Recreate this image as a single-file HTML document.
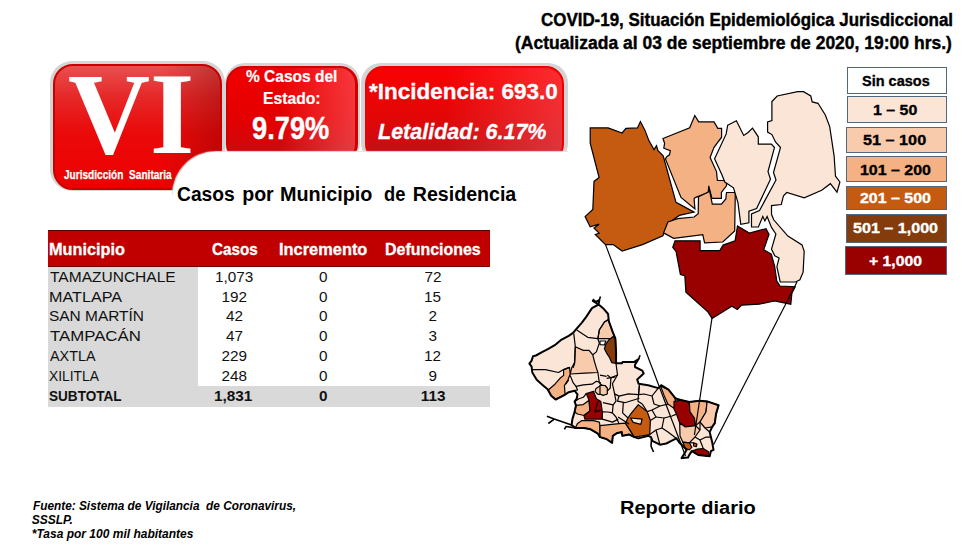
<!DOCTYPE html>
<html><head><meta charset="utf-8">
<style>
html,body{margin:0;padding:0;background:#fff;}
body{width:968px;height:549px;position:relative;overflow:hidden;font-family:"Liberation Sans",sans-serif;}
.t{position:absolute;white-space:nowrap;line-height:1;}
.box{position:absolute;box-sizing:border-box;}
.leg{position:absolute;box-sizing:border-box;border:1px solid #52687e;}
</style></head><body>

<!-- Red boxes -->
<div class="box" style="left:50px;top:61px;width:175px;height:130px;border-radius:22px;background:#d4d4d4;"></div>
<div class="box" style="left:53px;top:64px;width:169px;height:126px;border-radius:20px;background:linear-gradient(to left,rgba(120,0,0,0.35) 0%,rgba(120,0,0,0) 35%),linear-gradient(to bottom,#e85050 0%,#e62828 25%,#ea0a0a 55%,#ee0000 100%);border:2px solid #c80000;"></div>
<div class="box" style="left:225px;top:63px;width:135px;height:100px;border-radius:20px;background:#d4d4d4;"></div>
<div class="box" style="left:226px;top:66px;width:132px;height:96px;border-radius:18px;background:linear-gradient(to right,rgba(255,110,120,0) 40%,rgba(255,110,120,0.5) 100%),linear-gradient(to bottom,#f00000 0%,#e40000 55%,#c80a10 100%);border:2px solid #d00000;border-right-width:3px;"></div>
<div class="box" style="left:361px;top:63px;width:207px;height:100px;border-radius:20px;background:#d4d4d4;"></div>
<div class="box" style="left:365px;top:66px;width:199px;height:96px;border-radius:18px;background:linear-gradient(to right,rgba(255,110,120,0) 40%,rgba(255,110,120,0.4) 100%),linear-gradient(to bottom,#fa0000 0%,#e40606 50%,#c01018 100%);border:2px solid #ee0000;"></div>
<div class="box" style="left:173px;top:152px;width:396px;height:44px;border-radius:44px 0 0 0;background:#fff;box-shadow:-1px -1px 1px 0 #e4e4e4;"></div>
<div class="box" style="left:174px;top:152px;width:396px;height:60px;background:#fff;border-radius:44px 0 0 0;"></div>

<!-- Table backgrounds -->
<div class="box" style="left:48px;top:230px;width:442px;height:37px;background:#c00000;border-top:1px solid #5a0000;border-bottom:1px solid #7a0000;"></div>
<div class="box" style="left:48px;top:267px;width:150px;height:120px;background:#d9d9d9;"></div>
<div class="box" style="left:48px;top:386px;width:442px;height:21px;background:#d9d9d9;"></div>

<svg style="position:absolute;left:0;top:0" width="968" height="549" viewBox="0 0 968 549">
<g stroke="#000" stroke-width="1.2" stroke-linejoin="miter">
<polygon fill="#c55a11" points="590.2,127.9 608.1,127.9 622.1,133 625.9,128.4 637.4,127.9 640.4,121.5 645,130.4 648.9,140.6 654,149.5 656.5,145.7 658,150.7 663,155.6 663.8,158 676,202.3 694.1,212.1 679.3,215.4 667.9,223.6 662.9,235.7 642.5,244.6 622.1,251 613.2,244.6 605.5,244.6 595.3,234.4 599.1,233.2 594,228 599.1,224.2 590.2,226.8 585.1,216.6 592.8,209.5 594,181.4 599.1,177.6 590.2,143.2"/>
<polygon fill="#f4b183" points="663,138.5 689.7,127.7 694.8,115.5 698.7,121.9 714,121.9 717.8,128.3 721.6,128.3 721.6,137.2 714,147.4 710.1,157.6 716.5,171.6 717.4,180.5 726.5,180.5 726.5,185.9 721.4,192.5 721.4,198.3 712,198.3 708.7,185.9 708.3,192.5 695.2,197.6 694.1,199 694.9,208.9 681,197.4 665.4,158.9 667,156.4 669.5,154.8 670.3,150.7 663.8,148.2 664.6,143.3"/>
<polygon fill="#f4b183" points="667.9,222 677.7,218.7 694.1,217 698.2,213.8 698.5,196.8 708.3,192.1 709,188 712.3,204.1 721.4,204.1 725.8,199 726.5,192.5 735.3,192.5 734.7,231 722.8,242 704.6,242.9 702.8,234.7 673.7,238.3 663.6,232.9"/>
<polygon fill="#fbe5d6" points="727.7,125.2 736.4,120.8 743.7,135.4 748.1,132.5 752.5,128.1 758.3,136.8 758.3,144.1 771.4,144.1 774.5,147.5 768,171.6 770.5,179.3 756.6,208.6 748.9,211.2 748.9,222.8 740.8,224.3 737.9,202.4 733.5,187.8 724.8,182 721.9,174.7 714.6,158.7 726.2,133.9"/>
<polygon fill="#fbe5d6" points="771.9,101.5 777.2,96 797.6,91.7 803.5,91.7 810.8,96 812.2,101.9 818,103.3 825.3,115 829.7,126.6 834.1,155.8 835.5,176.2 839.9,182 837,192.2 830.4,183.7 821.7,190.3 804.2,197.9 786.8,192.5 783.5,195.7 781.3,204.5 771.5,205.6 771.5,214.3 773.7,219.8 787.9,236.1 802,244.9 804.2,251.4 803.1,272.2 799.9,279.8 795.5,282 780.2,282 776.9,266.7 779.1,258 774.8,255.8 771.5,249.2 775.9,234 771.5,227.4 767.1,216.5 764.9,220.9 762.8,216.5 758.4,227 751.5,227 751.5,214 759.5,210.5 776,180 773.5,172.5 780.5,147.5 775.5,142 771.9,134.6 767.6,132.1 767.6,121.9 771.9,120.6"/>
<polygon fill="#990000" points="672.8,247.3 675,240.8 700.1,240.8 700.1,250.6 719.8,250.6 723.1,245.1 735.1,240.8 737.5,226 749.3,233.1 766,228.7 769,234.4 763.7,249.7 771.3,254.1 774.6,266.1 776.8,281.2 780,286 795.2,286.7 791.9,293.2 790.8,304.2 774.4,300.9 759.1,304.2 741.6,305.2 737.3,309.6 731.8,306.3 712.1,318.4 707.8,311.8 685.9,292.1 684.8,275.7 680.4,274.6 676.1,251.7"/>
</g>
<g stroke="#000" stroke-width="1.6" stroke-linejoin="round" fill="none">
<polygon fill="#fbe5d6" stroke="none" points="592.8,300.8 596.4,301.6 599.3,300.1 598.6,304.5 603.7,308.8 608.1,314 608.8,321.2 612.5,331.4 615.4,338.7 616.1,353.3 616,363.3 621.9,363.3 622.6,361.9 634.3,361.9 638.6,359 635,364.8 635,367 642.3,370.6 643.7,373.5 637.2,379.4 638.6,383.7 648.1,385.2 658.3,388.1 661.2,385.2 668.5,389.6 674.3,396.9 676.5,398.8 681.6,400.1 689.3,402 699.5,400.7 707.1,401.4 718.6,405.2 716,414.1 714.8,423.1 712.2,426.9 709.7,432 710.9,437.1 712.2,442.2 713.5,449.8 710.9,451.1 709.7,456.2 698.2,454.9 691.8,451.1 689.3,454.9 688,457.5 681.6,458.1 686.7,449.8 682.9,446 679.1,442.2 676.5,438.4 671.4,440.9 666.3,443.5 659.9,444.7 652.3,440.9 651,437.1 648.5,435.8 638.3,438.4 634.4,437.1 629.3,434.5 622.3,435.8 621.7,432 616.6,433.3 612.8,435.8 612.1,442.8 606.4,439 600,437.1 597.9,433.7 590.6,429.3 584,427.9 575.3,427.9 571.6,425 572.4,419.1 574.6,411.9 576,405.3 574.6,401.6 576.7,398.7 577.5,394.4 574.6,390.7 568.7,392.2 564.4,395.1 555.6,399.5 551.2,395.8 547.6,389.3 542.5,384.9 536.7,379.8 532.3,372.5 531.6,366.7 529.4,363.7 531.6,360.6 533,356.2 535.9,355.5 542.5,351.9 548.3,348.9 555.6,344.6 560.7,340.2 568.7,335.8 573.1,332.9 576,329.3 581.9,322.7 586.2,316.9 592,308.1 598.6,304.5"/>
<polygon fill="#f8cbad" stroke-width="1.2" points="575.3,346.8 583.3,350.4 589.1,350.4 592.8,354.8 594.2,360.6 596.4,368.1 597.9,372.5 584.8,373.2 570.2,374 571.6,368.1 574.6,362.3"/>
<polygon fill="#f8cbad" stroke-width="1.2" points="599.3,330 604.4,322 608.1,319.8 608.8,321.2 612.5,331.4 615.4,338.7 605.9,338.7 597.9,338.7"/>
<polygon fill="#ffffff" stroke-width="1.2" points="600,341 605.9,341 604.4,345 600,344.6"/>
<polygon fill="#843c0c" stroke-width="1.2" points="605.8,344.4 608.7,340 613.2,336.5 615.4,338.7 616.1,353.3 616,363.3 611.7,362.6 609.5,357.5 606.6,353.1 604.4,348.7"/>
<polygon fill="#f4b183" stroke-width="1.2" points="563.6,369.6 569.5,367.4 570.2,374 568,379.8 564.4,385.6 565.1,394.4 555.6,399.5 551.2,395.8 548.3,390 554.9,384.2 560,378.3 563.6,375.4"/>
<polygon fill="#f8cbad" stroke-width="1.2" points="596,388.5 600.8,385.6 605.9,389.3 605.9,394.4 597.9,394.4 595,391.4"/>
<polygon fill="#f4b183" stroke-width="1.2" points="576,405.3 583.3,404.6 589.1,400.2 589.9,411.1 584,415.5 577.5,414 574.6,411.9"/>
<polygon fill="#990000" stroke-width="1.2" points="586.2,393.6 593.5,391.4 596.4,398.7 600.8,401.6 602.3,411.9 602.3,419.1 584.8,419.1 584,415.5 589.9,411.1 589.1,400.2"/>
<polygon fill="#f4b183" stroke-width="1.2" points="581.9,420.6 593.5,420.6 599.3,422.1 600,425.6 600,437.1 597.9,433.7 590.6,429.3 584,427.9 575.3,427.9 577.5,423.5"/>
<polygon fill="#f4b183" stroke-width="1.2" points="600,425.6 619.1,423.7 625.5,423.1 634.4,437.1 629.3,434.5 622.3,435.8 621.7,432 616.6,433.3 612.8,435.8 612.1,442.8 606.4,439 600,437.1"/>
<polygon fill="#f8cbad" stroke-width="1.2" points="600,385.2 605,385.5 607.3,388 607.3,394 603,395.4 600,394"/>
<polygon fill="#c55a11" stroke-width="1.2" points="630.6,414.1 638.3,404.6 647.2,411.6 650.4,420.5 649.7,434.5 634.4,437.1 625.5,423.1 628,418"/>
<polygon fill="#fbe5d6" stroke-width="1.2" points="630.6,418 642.1,419.2 640.8,424.3 633.2,422.4"/>
<polygon fill="#f4b183" stroke-width="1.2" points="660.5,385.9 668.5,389.6 674.3,396.9 675.8,401.2 674.3,408.5 667.8,404.1 664.1,395.4"/>
<polygon fill="#990000" stroke-width="1.2" points="674,401.4 681.6,400.1 689.3,402 689.9,411.6 694.4,418 695.6,425.6 685.4,426.9 679.7,423.1 676.5,414.1 674,409"/>
<polygon fill="#f4b183" stroke-width="1.2" points="689.3,402 699.5,400.7 707.1,401.4 706,412 700,422 695.6,425.6 694.4,418 689.9,411.6"/>
<polygon fill="#f8cbad" stroke-width="1.2" points="707.1,401.4 718.6,405.2 716,414.1 714.8,423.1 712.2,426.9 705,428 700,422 706,412"/>
<polygon fill="#f8cbad" stroke-width="1.2" points="679.7,423.1 685.4,426.9 695.6,425.6 700,430 695,437 689.3,442.8 682.9,442.2 680,436"/>
<polygon fill="#c55a11" stroke-width="1.2" points="682.9,442.2 689.3,442.8 691.8,447.3 689.3,449.8 685.4,448.6"/>
<polygon fill="#c55a11" stroke-width="1.2" points="693.7,442.8 696.9,444.1 696.3,446.6 693.5,446"/>
<polygon fill="#990000" stroke-width="1.2" points="691.8,451.1 696.9,449.2 703.3,448.6 708.4,451.7 709.7,456.2 698.2,454.9"/>
<polyline stroke-width="1.2" points="576.7,330 587.7,337.3 597.9,338.7 599.3,330 604.4,322 608.1,319.8"/>
<polyline stroke-width="1.2" points="573.8,333.6 575.3,346.8 574.6,363.5 573.1,367.9"/>
<polyline stroke-width="1.2" points="532.3,369.6 545.4,369.6 558.5,372.5 563.6,369.6 569.5,367.4"/>
<polyline stroke-width="1.2" points="597.9,338.7 599.3,343.1 596.4,351.9 592.8,354.8"/>
<polyline stroke-width="1.2" points="570.2,375.4 573.1,382.7 576,386.3 583.3,384.9 592,384.2 596.4,381.2 600.8,382.7"/>
<polyline stroke-width="1.2" points="568.7,379.8 565.8,384.2"/>
<polyline stroke-width="1.2" points="576,386.3 577.5,390 574.6,390.7"/>
<polyline stroke-width="1.2" points="597.9,372.5 599.3,382.7 602.3,385.6"/>
<polyline stroke-width="1.2" points="574.6,401.6 579,398.7 583.3,397.3 586.2,393.6"/>
<polyline stroke-width="1.2" points="597.9,401.6 595,411.9 600.8,410.4"/>
<polyline stroke-width="1.2" points="602.3,419.1 612.5,422.1 618.3,419.1"/>
<polyline stroke-width="1.2" points="616,363.3 617.5,375 610.9,377.9 607.3,375"/>
<polyline stroke-width="1.2" points="610.9,377.9 610.2,388.1 607.3,391"/>
<polyline stroke-width="1.2" points="617.5,375 612.4,383.7 614.6,393.9 619,396.1 628.4,393.9 638.6,394.7 639.4,385.2"/>
<polyline stroke-width="1.2" points="639.4,385.2 637.9,401.2 642.3,404.1"/>
<polyline stroke-width="1.2" points="614.6,393.9 616,401.2 613.1,404.9 602.9,402.7"/>
<polyline stroke-width="1.2" points="619,396.1 617.5,401.2 624.8,402.7 639.4,398.3"/>
<polyline stroke-width="1.2" points="613.1,404.9 612.4,412.9 616,417 619.1,423.7"/>
<polyline stroke-width="1.2" points="623.3,402.7 622.6,412.9 628,418"/>
<polyline stroke-width="1.2" points="606.6,376.4 600,375.2"/>
<polyline stroke-width="1.2" points="602.3,411.9 608,412 612.4,412.9"/>
<polyline stroke-width="1.2" points="615.4,376.9 606.6,378.3"/>
<polyline stroke-width="1.2" points="650.4,420.5 656,417 652,410 647.2,411.6"/>
<polyline stroke-width="1.2" points="652,410 660,406 667.8,404.1"/>
<polyline stroke-width="1.2" points="656,417 664,418 672,416 676.5,414.1"/>
<polyline stroke-width="1.2" points="664,418 662,428 668,432 676.5,438.4"/>
<polyline stroke-width="1.2" points="649.7,434.5 656,430 662,428"/>
<polyline stroke-width="1.2" points="656,430 659.9,444.7"/>
<polyline stroke-width="1.2" points="642.3,404.1 647.2,411.6"/>
<polyline stroke-width="1.2" points="658.3,388.1 652,396 644,394 638.6,394.7"/>
<polyline stroke-width="1.2" points="652,396 654,404 660,406"/>
<polyline stroke-width="1.2" points="618,417 629,424"/>
<polyline stroke-width="1.2" points="705,428 709.7,432"/>
<polyline stroke-width="1.2" points="695,437 700,440 706,437 710.9,437.1"/>
<polyline stroke-width="1.2" points="700,440 703.3,448.6"/>
<polyline stroke-width="1.2" points="689.3,442.8 693.7,442.8"/>
<polyline stroke-width="1.2" points="700,422 700,430"/>
<polygon stroke-width="2" points="592.8,300.8 596.4,301.6 599.3,300.1 598.6,304.5 603.7,308.8 608.1,314 608.8,321.2 612.5,331.4 615.4,338.7 616.1,353.3 616,363.3 621.9,363.3 622.6,361.9 634.3,361.9 638.6,359 635,364.8 635,367 642.3,370.6 643.7,373.5 637.2,379.4 638.6,383.7 648.1,385.2 658.3,388.1 661.2,385.2 668.5,389.6 674.3,396.9 676.5,398.8 681.6,400.1 689.3,402 699.5,400.7 707.1,401.4 718.6,405.2 716,414.1 714.8,423.1 712.2,426.9 709.7,432 710.9,437.1 712.2,442.2 713.5,449.8 710.9,451.1 709.7,456.2 698.2,454.9 691.8,451.1 689.3,454.9 688,457.5 681.6,458.1 686.7,449.8 682.9,446 679.1,442.2 676.5,438.4 671.4,440.9 666.3,443.5 659.9,444.7 652.3,440.9 651,437.1 648.5,435.8 638.3,438.4 634.4,437.1 629.3,434.5 622.3,435.8 621.7,432 616.6,433.3 612.8,435.8 612.1,442.8 606.4,439 600,437.1 597.9,433.7 590.6,429.3 584,427.9 575.3,427.9 571.6,425 572.4,419.1 574.6,411.9 576,405.3 574.6,401.6 576.7,398.7 577.5,394.4 574.6,390.7 568.7,392.2 564.4,395.1 555.6,399.5 551.2,395.8 547.6,389.3 542.5,384.9 536.7,379.8 532.3,372.5 531.6,366.7 529.4,363.7 531.6,360.6 533,356.2 535.9,355.5 542.5,351.9 548.3,348.9 555.6,344.6 560.7,340.2 568.7,335.8 573.1,332.9 576,329.3 581.9,322.7 586.2,316.9 592,308.1 598.6,304.5"/>
<polyline stroke-width="1.6" points="571.6,425 562.9,422.1 554.2,419.1 546.9,416.2"/>
<polyline stroke-width="1.6" points="554.2,419.1 548.3,423.5"/>
<polyline stroke-width="1.6" points="575.3,427.9 566,426.5 564.4,429.3"/>
<polyline stroke-width="1.6" points="599.3,300.1 600.5,296.5"/>
<polyline stroke-width="1.6" points="592.8,300.8 594,299"/>
<polyline stroke-width="1.6" points="638.6,359 640.1,355.3"/>
<polyline stroke-width="1.6" points="651.5,439 651,446 653.5,452"/>
<polyline stroke-width="1.6" points="684,457.8 681,458.5"/>
</g>
<g stroke="#000" stroke-width="1.2" fill="none">
<polyline points="605.5,244.6 685.5,456"/>
<polyline points="712,318 694.4,435"/>
<polyline points="797,282 713.5,444.7"/>
</g></svg>

<!-- Legend -->
<div class="leg" style="left:847px;top:67px;width:100px;height:27px;background:#fff;"></div>
<div class="leg" style="left:847px;top:96px;width:100px;height:27px;background:#fbe5d6;"></div>
<div class="leg" style="left:846px;top:127px;width:101px;height:26px;background:#f8cbad;"></div>
<div class="leg" style="left:846px;top:156px;width:101px;height:26px;background:#f4b183;"></div>
<div class="leg" style="left:846px;top:186px;width:101px;height:24px;background:#c55a11;"></div>
<div class="leg" style="left:846px;top:214px;width:101px;height:29px;background:#843c0c;"></div>
<div class="leg" style="left:845px;top:246px;width:102px;height:29px;background:#990000;"></div>

<div class="t" id="title1" style="left:540.58px;top:10.66px;font-family:'Liberation Sans';font-weight:bold;font-style:normal;font-size:18px;color:#000;transform:scaleX(0.9406);transform-origin:0 0;-webkit-text-stroke:0.4px #000;">COVID-19, Situación Epidemiológica Jurisdiccional</div>
<div class="t" id="title2" style="left:515.20px;top:34.26px;font-family:'Liberation Sans';font-weight:bold;font-style:normal;font-size:18px;color:#000;transform:scaleX(0.9726);transform-origin:0 0;-webkit-text-stroke:0.4px #000;">(Actualizada al 03 de septiembre de 2020, 19:00 hrs.)</div>
<div class="t" id="vi" style="left:68.03px;top:56.35px;font-family:'Liberation Serif';font-weight:bold;font-style:normal;font-size:116px;color:#fff;transform:scaleX(0.9798);transform-origin:0 0;">VI</div>
<div class="t" id="juris" style="left:63.73px;top:169.04px;font-family:'Liberation Sans';font-weight:bold;font-style:normal;font-size:12px;color:#fff;transform:scaleX(0.8411);transform-origin:0 0;-webkit-text-stroke:0.25px #fff;">Jurisdicción&nbsp; Sanitaria</div>
<div class="t" id="pc1" style="left:245.78px;top:68.85px;font-family:'Liberation Sans';font-weight:bold;font-style:normal;font-size:16px;color:#fff;transform:scaleX(0.9691);transform-origin:0 0;-webkit-text-stroke:0.2px #fff;">% Casos del</div>
<div class="t" id="pc2" style="left:262.60px;top:91.45px;font-family:'Liberation Sans';font-weight:bold;font-style:normal;font-size:16px;color:#fff;transform:scaleX(0.9810);transform-origin:0 0;-webkit-text-stroke:0.2px #fff;">Estado:</div>
<div class="t" id="pc3" style="left:251.81px;top:112.11px;font-family:'Liberation Sans';font-weight:bold;font-style:normal;font-size:32px;color:#fff;transform:scaleX(0.8527);transform-origin:0 0;-webkit-text-stroke:0.4px #fff;">9.79%</div>
<div class="t" id="inc" style="left:369.05px;top:82.10px;font-family:'Liberation Sans';font-weight:bold;font-style:normal;font-size:21.5px;color:#fff;transform:scaleX(1.0464);transform-origin:0 0;-webkit-text-stroke:0.3px #fff;">*Incidencia: 693.0</div>
<div class="t" id="let" style="left:378.00px;top:122.20px;font-family:'Liberation Sans';font-weight:bold;font-style:italic;font-size:21.5px;color:#fff;-webkit-text-stroke:0.3px #fff;">Letalidad: 6.17%</div>
<div class="t" id="w1" style="left:176.60px;top:184.90px;font-family:'Liberation Sans';font-weight:bold;font-style:normal;font-size:19.6px;color:#000;transform:scaleX(0.9828);transform-origin:0 0;">Casos</div>
<div class="t" id="w2" style="left:242.19px;top:184.90px;font-family:'Liberation Sans';font-weight:bold;font-style:normal;font-size:19.6px;color:#000;">por</div>
<div class="t" id="w3" style="left:279.58px;top:184.90px;font-family:'Liberation Sans';font-weight:bold;font-style:normal;font-size:19.6px;color:#000;transform:scaleX(1.0100);transform-origin:0 0;">Municipio</div>
<div class="t" id="w4" style="left:384.19px;top:184.90px;font-family:'Liberation Sans';font-weight:bold;font-style:normal;font-size:19.6px;color:#000;transform:scaleX(0.9348);transform-origin:0 0;">de</div>
<div class="t" id="w5" style="left:412.79px;top:184.90px;font-family:'Liberation Sans';font-weight:bold;font-style:normal;font-size:19.6px;color:#000;">Residencia</div>
<div class="t" id="h1" style="left:49.00px;top:241.40px;font-family:'Liberation Sans';font-weight:bold;font-style:normal;font-size:16.3px;color:#fff;-webkit-text-stroke:0.3px #fff;">Municipio</div>
<div class="t" id="h2" style="left:211.97px;top:241.40px;font-family:'Liberation Sans';font-weight:bold;font-style:normal;font-size:16.3px;color:#fff;transform:scaleX(0.9367);transform-origin:0 0;-webkit-text-stroke:0.3px #fff;">Casos</div>
<div class="t" id="h3" style="left:278.59px;top:241.40px;font-family:'Liberation Sans';font-weight:bold;font-style:normal;font-size:16.3px;color:#fff;transform:scaleX(1.0069);transform-origin:0 0;-webkit-text-stroke:0.3px #fff;">Incremento</div>
<div class="t" id="h4" style="left:384.80px;top:241.40px;font-family:'Liberation Sans';font-weight:bold;font-style:normal;font-size:16.3px;color:#fff;transform:scaleX(0.9794);transform-origin:0 0;-webkit-text-stroke:0.3px #fff;">Defunciones</div>
<div class="t" id="rep" style="left:619.67px;top:499.26px;font-family:'Liberation Sans';font-weight:bold;font-style:normal;font-size:18px;color:#000;transform:scaleX(1.1124);transform-origin:0 0;">Reporte diario</div>
<div class="t" id="f1" style="left:32.78px;top:500.04px;font-family:'Liberation Sans';font-weight:bold;font-style:italic;font-size:12px;color:#000;transform:scaleX(0.9854);transform-origin:0 0;">Fuente: Sistema de Vigilancia&nbsp; de Coronavirus,</div>
<div class="t" id="f2" style="left:31.79px;top:513.74px;font-family:'Liberation Sans';font-weight:bold;font-style:italic;font-size:12px;color:#000;">SSSLP.</div>
<div class="t" id="f3" style="left:31.79px;top:527.74px;font-family:'Liberation Sans';font-weight:bold;font-style:italic;font-size:12px;color:#000;">*Tasa por 100 mil habitantes</div>
<div class="t" id="l1" style="left:861.80px;top:72.68px;font-family:'Liberation Sans';font-weight:bold;font-style:normal;font-size:15.5px;color:#000;transform:scaleX(0.9361);transform-origin:0 0;-webkit-text-stroke:0.35px #000;">Sin casos</div>
<div class="t" id="l2" style="left:873.36px;top:101.58px;font-family:'Liberation Sans';font-weight:bold;font-style:normal;font-size:15.5px;color:#000;transform:scaleX(1.0286);transform-origin:0 0;-webkit-text-stroke:0.35px #000;">1 – 50</div>
<div class="t" id="l3" style="left:863.37px;top:131.58px;font-family:'Liberation Sans';font-weight:bold;font-style:normal;font-size:15.5px;color:#000;transform:scaleX(1.0467);transform-origin:0 0;-webkit-text-stroke:0.35px #000;">51 – 100</div>
<div class="t" id="l4" style="left:860.20px;top:161.58px;font-family:'Liberation Sans';font-weight:bold;font-style:normal;font-size:15.5px;color:#000;transform:scaleX(1.0290);transform-origin:0 0;-webkit-text-stroke:0.35px #000;">101 – 200</div>
<div class="t" id="l5" style="left:860.20px;top:190.48px;font-family:'Liberation Sans';font-weight:bold;font-style:normal;font-size:15.5px;color:#fff;transform:scaleX(1.0290);transform-origin:0 0;-webkit-text-stroke:0.35px #fff;">201 – 500</div>
<div class="t" id="l6" style="left:853.00px;top:220.48px;font-family:'Liberation Sans';font-weight:bold;font-style:normal;font-size:15.5px;color:#fff;transform:scaleX(1.0390);transform-origin:0 0;-webkit-text-stroke:0.35px #fff;">501 – 1,000</div>
<div class="t" id="l7" style="left:868.79px;top:252.98px;font-family:'Liberation Sans';font-weight:bold;font-style:normal;font-size:15.5px;color:#fff;transform:scaleX(1.0154);transform-origin:0 0;-webkit-text-stroke:0.35px #fff;">+ 1,000</div>
<div class="t" id="r0a" style="left:50.01px;top:269.05px;font-family:'Liberation Sans';font-weight:normal;font-style:normal;font-size:15.3px;color:#111;transform:scaleX(1.0153);transform-origin:0 0;">TAMAZUNCHALE</div>
<div class="t" id="r0b" style="left:214.89px;top:269.05px;font-family:'Liberation Sans';font-weight:normal;font-style:normal;font-size:15.3px;color:#111;">1,073</div>
<div class="t" id="r0c" style="left:319.00px;top:269.05px;font-family:'Liberation Sans';font-weight:normal;font-style:normal;font-size:15.3px;color:#111;">0</div>
<div class="t" id="r0d" style="left:424.60px;top:269.05px;font-family:'Liberation Sans';font-weight:normal;font-style:normal;font-size:15.3px;color:#111;">72</div>
<div class="t" id="r1a" style="left:48.97px;top:289.15px;font-family:'Liberation Sans';font-weight:normal;font-style:normal;font-size:15.3px;color:#111;transform:scaleX(1.0565);transform-origin:0 0;">MATLAPA</div>
<div class="t" id="r1b" style="left:221.39px;top:289.15px;font-family:'Liberation Sans';font-weight:normal;font-style:normal;font-size:15.3px;color:#111;">192</div>
<div class="t" id="r1c" style="left:319.00px;top:289.15px;font-family:'Liberation Sans';font-weight:normal;font-style:normal;font-size:15.3px;color:#111;">0</div>
<div class="t" id="r1d" style="left:424.10px;top:289.15px;font-family:'Liberation Sans';font-weight:normal;font-style:normal;font-size:15.3px;color:#111;">15</div>
<div class="t" id="r2a" style="left:49.00px;top:308.45px;font-family:'Liberation Sans';font-weight:normal;font-style:normal;font-size:15.3px;color:#111;transform:scaleX(1.0097);transform-origin:0 0;">SAN MARTÍN</div>
<div class="t" id="r2b" style="left:225.89px;top:308.45px;font-family:'Liberation Sans';font-weight:normal;font-style:normal;font-size:15.3px;color:#111;">42</div>
<div class="t" id="r2c" style="left:319.00px;top:308.45px;font-family:'Liberation Sans';font-weight:normal;font-style:normal;font-size:15.3px;color:#111;">0</div>
<div class="t" id="r2d" style="left:428.60px;top:308.45px;font-family:'Liberation Sans';font-weight:normal;font-style:normal;font-size:15.3px;color:#111;">2</div>
<div class="t" id="r3a" style="left:50.05px;top:327.85px;font-family:'Liberation Sans';font-weight:normal;font-style:normal;font-size:15.3px;color:#111;transform:scaleX(1.0976);transform-origin:0 0;">TAMPACÁN</div>
<div class="t" id="r3b" style="left:225.89px;top:327.85px;font-family:'Liberation Sans';font-weight:normal;font-style:normal;font-size:15.3px;color:#111;">47</div>
<div class="t" id="r3c" style="left:319.00px;top:327.85px;font-family:'Liberation Sans';font-weight:normal;font-style:normal;font-size:15.3px;color:#111;">0</div>
<div class="t" id="r3d" style="left:428.60px;top:327.85px;font-family:'Liberation Sans';font-weight:normal;font-style:normal;font-size:15.3px;color:#111;">3</div>
<div class="t" id="r4a" style="left:49.97px;top:348.35px;font-family:'Liberation Sans';font-weight:normal;font-style:normal;font-size:15.3px;color:#111;transform:scaleX(0.9388);transform-origin:0 0;">AXTLA</div>
<div class="t" id="r4b" style="left:221.39px;top:348.35px;font-family:'Liberation Sans';font-weight:normal;font-style:normal;font-size:15.3px;color:#111;">229</div>
<div class="t" id="r4c" style="left:319.00px;top:348.35px;font-family:'Liberation Sans';font-weight:normal;font-style:normal;font-size:15.3px;color:#111;">0</div>
<div class="t" id="r4d" style="left:424.10px;top:348.35px;font-family:'Liberation Sans';font-weight:normal;font-style:normal;font-size:15.3px;color:#111;">12</div>
<div class="t" id="r5a" style="left:49.05px;top:367.65px;font-family:'Liberation Sans';font-weight:normal;font-style:normal;font-size:15.3px;color:#111;transform:scaleX(0.9036);transform-origin:0 0;">XILITLA</div>
<div class="t" id="r5b" style="left:221.39px;top:367.65px;font-family:'Liberation Sans';font-weight:normal;font-style:normal;font-size:15.3px;color:#111;">248</div>
<div class="t" id="r5c" style="left:319.00px;top:367.65px;font-family:'Liberation Sans';font-weight:normal;font-style:normal;font-size:15.3px;color:#111;">0</div>
<div class="t" id="r5d" style="left:428.60px;top:367.65px;font-family:'Liberation Sans';font-weight:normal;font-style:normal;font-size:15.3px;color:#111;">9</div>
<div class="t" id="r6a" style="left:49.06px;top:388.15px;font-family:'Liberation Sans';font-weight:bold;font-style:normal;font-size:15.3px;color:#111;transform:scaleX(0.8864);transform-origin:0 0;">SUBTOTAL</div>
<div class="t" id="r6b" style="left:214.00px;top:388.15px;font-family:'Liberation Sans';font-weight:bold;font-style:normal;font-size:15.3px;color:#111;">1,831</div>
<div class="t" id="r6c" style="left:319.00px;top:388.15px;font-family:'Liberation Sans';font-weight:bold;font-style:normal;font-size:15.3px;color:#111;">0</div>
<div class="t" id="r6d" style="left:420.79px;top:388.15px;font-family:'Liberation Sans';font-weight:bold;font-style:normal;font-size:15.3px;color:#111;">113</div>
</body></html>
